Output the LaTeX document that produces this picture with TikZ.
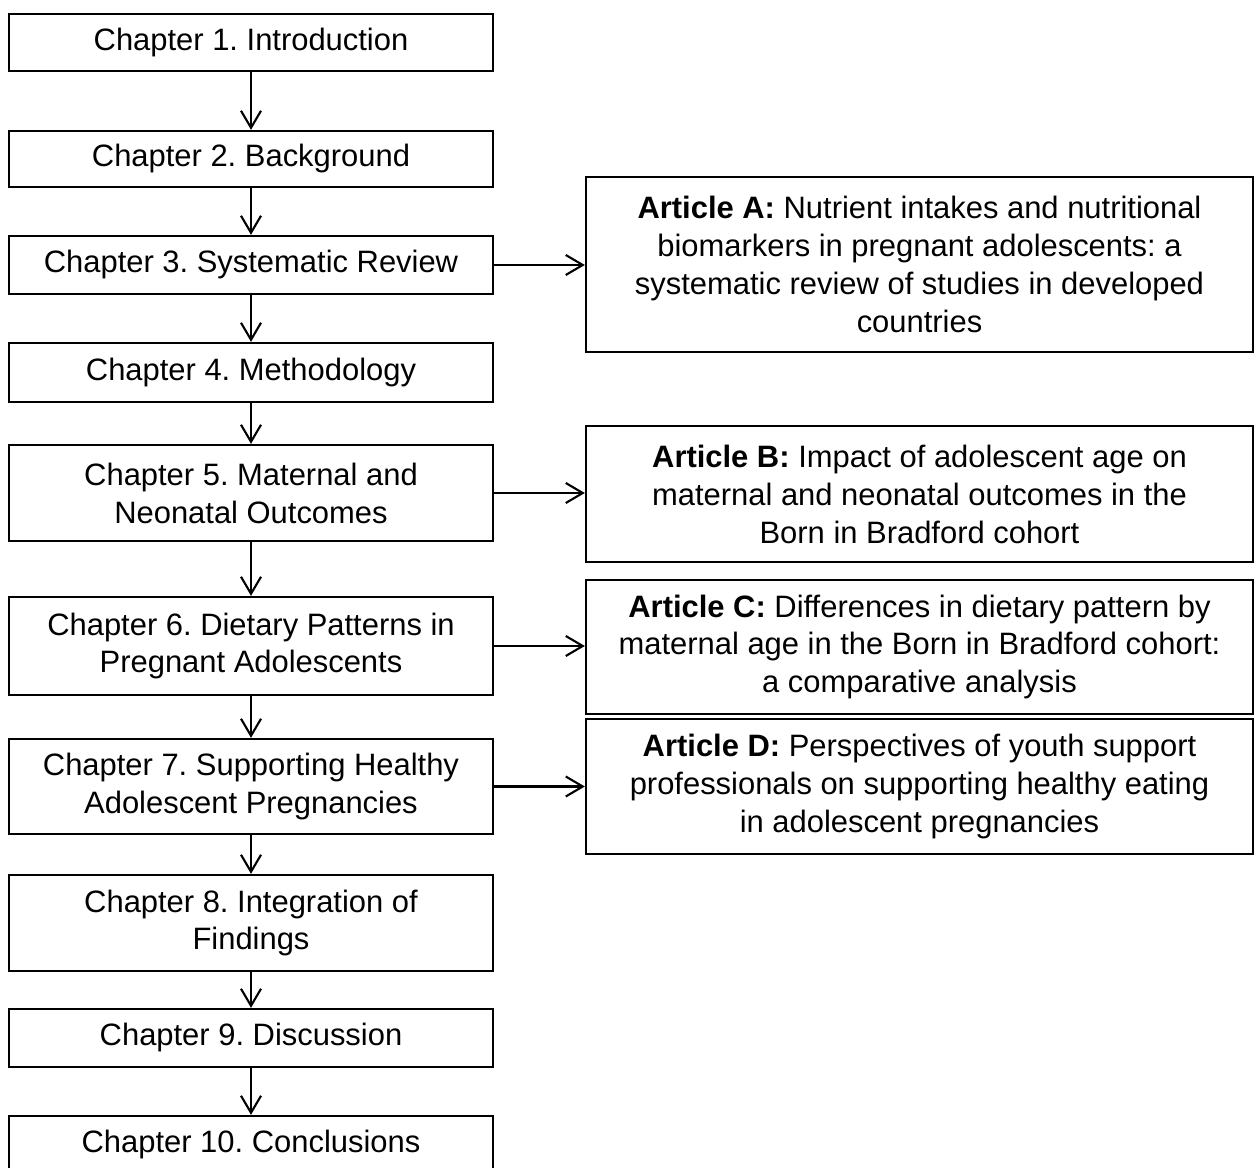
\documentclass[tikz,border=0pt]{standalone}
\usepackage{fontspec}
\setmainfont{Liberation Sans}
\usepackage{tikz}
\usetikzlibrary{arrows.meta}
\definecolor{my_black}{HTML}{000000}
\frenchspacing

\begin{document}
\begin{tikzpicture}[
    chap_box/.style={draw=my_black, line width=1.3pt, minimum width=9.68cm,
        inner sep=0pt, align=center, font=\fontsize{17.6pt}{21.6pt}\selectfont},
    art_box/.style={chap_box, minimum width=13.34cm},
    flow_arrow/.style={-{Straight Barb[length=3.4mm, width=4mm]}, line width=1.2pt, my_black}
]

% Scale: 1 px of the page = 0.02 cm, y runs downwards
% Page frame (the last chapter box runs off the bottom edge)
\clip (0,0) rectangle (25.16,-23.36);

% Chapter column (centre x = 5.02)
\node[chap_box, minimum height=1.14cm] (ch1) at (5.02,-0.85) {Chapter 1. Introduction};
\node[chap_box, minimum height=1.12cm] (ch2) at (5.02,-3.18) {Chapter 2. Background};
\node[chap_box, minimum height=1.16cm] (ch3) at (5.02,-5.30) {Chapter 3. Systematic Review};
\node[chap_box, minimum height=1.18cm] (ch4) at (5.02,-7.45) {Chapter 4. Methodology};
\node[chap_box, minimum height=1.92cm] (ch5) at (5.02,-9.86) {Chapter 5. Maternal and\\Neonatal Outcomes};
\node[chap_box, minimum height=1.96cm] (ch6) at (5.02,-12.92) {Chapter 6. Dietary Patterns in\\Pregnant Adolescents};
\node[chap_box, minimum height=1.90cm] (ch7) at (5.02,-15.73) {Chapter 7. Supporting Healthy\\Adolescent Pregnancies};
\node[chap_box, minimum height=1.92cm] (ch8) at (5.02,-18.46) {Chapter 8. Integration of\\Findings};
\node[chap_box, minimum height=1.16cm] (ch9) at (5.02,-20.76) {Chapter 9. Discussion};
\node[chap_box, minimum height=1.16cm] (ch10) at (5.02,-22.90) {Chapter 10. Conclusions};

% Article column (centre x = 18.39)
\node[art_box, minimum height=3.50cm] (artA) at (18.39,-5.29)
    {\textbf{Article A:} Nutrient intakes and nutritional\\biomarkers in pregnant adolescents: a\\systematic review of studies in developed\\countries};
\node[art_box, minimum height=2.72cm] (artB) at (18.39,-9.88)
    {\textbf{Article B:} Impact of adolescent age on\\maternal and neonatal outcomes in the\\Born in Bradford cohort};
\node[art_box, minimum height=2.68cm] (artC) at (18.39,-12.94)
    {\textbf{Article C:} Differences in dietary pattern by\\maternal age in the Born in Bradford cohort:\\a comparative analysis};
\node[art_box, minimum height=2.70cm] (artD) at (18.39,-15.73)
    {\textbf{Article D:} Perspectives of youth support\\professionals on supporting healthy eating\\in adolescent pregnancies};

% Chapter to chapter
\foreach \from/\to in {ch1/ch2, ch2/ch3, ch3/ch4, ch4/ch5, ch5/ch6, ch6/ch7, ch7/ch8, ch8/ch9, ch9/ch10} {
    \draw[flow_arrow] (\from) -- (\to);
}

% Chapter to article
\foreach \from/\to in {ch3/artA, ch5/artB, ch6/artC, ch7/artD} {
    \draw[flow_arrow] (\from.east) -- (\from.east -| \to.west);
}

\end{tikzpicture}
\end{document}
